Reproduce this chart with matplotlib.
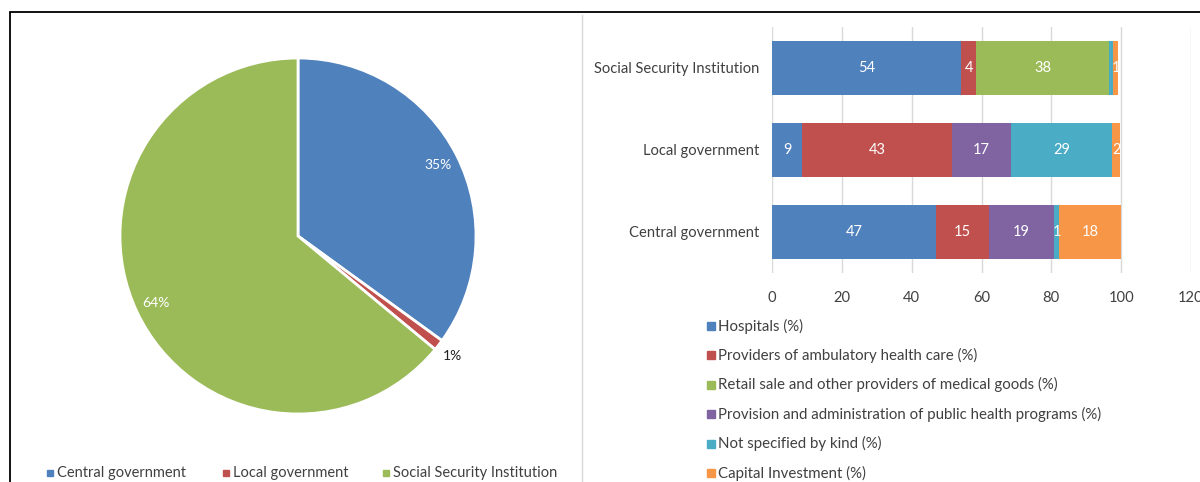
import numpy as np
import matplotlib.pyplot as plt
from matplotlib.patches import Rectangle
from matplotlib.lines import Line2D

plt.rcParams['font.family'] = ['Lato', 'DejaVu Sans']

# Pie: share of spending by financing agent
pie_labels = ['Central government', 'Local government', 'Social Security Institution']
pie_values = [35, 1, 64]
pie_colors = ['#4F81BD', '#C0504D', '#9BBB59']

# Stacked bars: breakdown by provider within each agent
agents = ['Central government', 'Local government', 'Social Security Institution']
series_names = ['Hospitals (%)',
                'Providers of ambulatory health care (%)',
                'Retail sale and other providers of medical goods (%)',
                'Provision and administration of public health programs (%)',
                'Not specified by kind (%)',
                'Capital Investment (%)']
hospitals = [46.9, 8.6, 54.2]
ambulatory = [15.3, 43.0, 4.3]
retail = [0.0, 0.0, 38.1]
public_health = [18.6, 16.9, 0.0]
not_specified = [1.4, 28.9, 1.2]
capital = [17.8, 2.4, 1.4]
series_values = [hospitals, ambulatory, retail, public_health, not_specified, capital]
series_colors = ['#4F81BD', '#C0504D', '#9BBB59', '#8064A2', '#4BACC6', '#F79646']
x_ticks = [0, 20, 40, 60, 80, 100, 120]

W, H = 1200, 482
fig = plt.figure(figsize=(W / 100, H / 100), dpi=100)
text_color = '#404040'


def px_axes(left, top, width, height):
    return fig.add_axes([left / W, 1 - (top + height) / H, width / W, height / H])


def fx(x):
    return x / W


def fy(y):
    return 1 - y / H


# outer frame and panel separator
fig.patches.append(Rectangle((fx(10), fy(600)), fx(1300), fy(12) - fy(600),
                             transform=fig.transFigure, fill=False,
                             edgecolor='black', linewidth=1.3, clip_on=False))
fig.lines.append(Line2D([fx(582), fx(582)], [fy(15), fy(490)],
                        transform=fig.transFigure, color='#d9d9d9', linewidth=1))

# ---- pie ----
ax1 = px_axes(120, 58, 356, 356)
wedges, _ = ax1.pie(pie_values, colors=pie_colors, startangle=90, counterclock=False,
                    wedgeprops=dict(edgecolor='white', linewidth=2))
ax1.set_xlim(-1, 1)
ax1.set_ylim(-1, 1)
ax1.set_aspect('equal')
for w, v in zip(wedges, pie_values):
    ang = np.deg2rad((w.theta1 + w.theta2) / 2)
    if v >= 5:
        r, col = 0.88, 'white'
    else:
        r, col = 1.1, '#202020'
    ax1.text(r * np.cos(ang), r * np.sin(ang), f'{v}%', ha='center', va='center',
             color=col, fontsize=10, clip_on=False)

# pie legend
legend_x = [47, 223, 383]
for lx, lab, col in zip(legend_x, pie_labels, pie_colors):
    fig.patches.append(Rectangle((fx(lx), fy(476)), fx(6), fy(470) - fy(476),
                                 transform=fig.transFigure, color=col))
    fig.text(fx(lx + 10), fy(473), lab, ha='left', va='center',
             color=text_color, fontsize=10.5)

# ---- stacked bars ----
ax2 = px_axes(772, 27, 419, 246)
y = np.arange(len(agents))
left = np.zeros(len(agents))
for vals, name, col in zip(series_values, series_names, series_colors):
    vals = np.array(vals)
    ax2.barh(y, vals, left=left, height=0.66, color=col, label=name, zorder=2)
    for yi, (l, v) in enumerate(zip(left, vals)):
        # very thin slivers stay unlabeled so neighbouring labels don't collide
        if v >= 1.3:
            ax2.text(l + v / 2, yi, f'{v:.0f}', ha='center', va='center',
                     color='white', fontsize=10.5, zorder=3)
    left += vals

ax2.set_xlim(0, 120)
ax2.set_ylim(-0.5, 2.5)
ax2.set_xticks(x_ticks)
ax2.set_yticks(y)
ax2.set_yticklabels(agents)
ax2.grid(axis='x', color='#d9d9d9', linewidth=1, zorder=0)
ax2.set_axisbelow(True)
for s in ax2.spines.values():
    s.set_visible(False)
ax2.tick_params(length=0, labelsize=10.6, labelcolor=text_color)
ax2.tick_params(axis='x', pad=13)
ax2.tick_params(axis='y', pad=9)

# bar legend, one entry per row
for i, (name, col) in enumerate(zip(series_names, series_colors)):
    yc = 326 + i * 29.4
    fig.patches.append(Rectangle((fx(707), fy(yc + 4)), fx(8), fy(yc - 4) - fy(yc + 4),
                                 transform=fig.transFigure, color=col))
    fig.text(fx(718), fy(yc), name, ha='left', va='center',
             color=text_color, fontsize=10.8)

fig.savefig('out.png', dpi=100, facecolor='white')
